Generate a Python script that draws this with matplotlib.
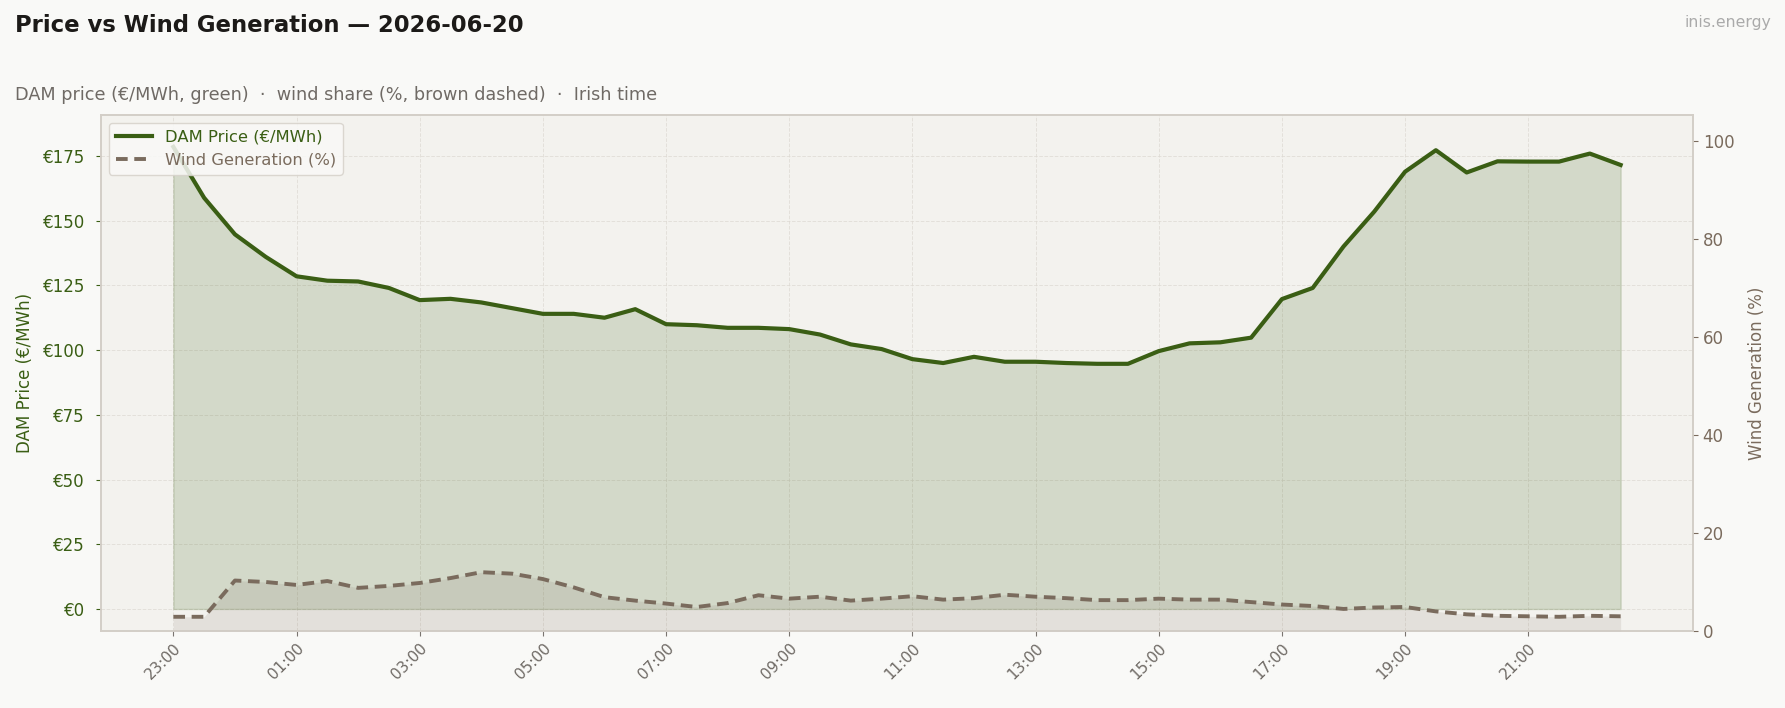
import matplotlib
matplotlib.use("Agg")
import matplotlib.pyplot as plt
import numpy as np

times = ["23:00", "23:30", "00:00", "00:30", "01:00", "01:30", "02:00", "02:30",
         "03:00", "03:30", "04:00", "04:30", "05:00", "05:30", "06:00", "06:30",
         "07:00", "07:30", "08:00", "08:30", "09:00", "09:30", "10:00", "10:30",
         "11:00", "11:30", "12:00", "12:30", "13:00", "13:30", "14:00", "14:30",
         "15:00", "15:30", "16:00", "16:30", "17:00", "17:30", "18:00", "18:30",
         "19:00", "19:30", "20:00", "20:30", "21:00", "21:30", "22:00", "22:30"]

price = [178.5, 158.8, 144.7, 136.0, 128.5, 126.8, 126.5, 124.0,
         119.3, 119.8, 118.4, 116.2, 114.0, 114.0, 112.5, 115.8,
         110.0, 109.6, 108.6, 108.6, 108.1, 106.0, 102.2, 100.4,
         96.5, 95.0, 97.4, 95.5, 95.5, 95.0, 94.7, 94.7,
         99.6, 102.6, 103.0, 104.8, 119.7, 124.0, 140.0, 153.5,
         168.9, 177.2, 168.6, 172.9, 172.8, 172.8, 175.9, 171.5]

wind = [2.9, 2.9, 10.3, 10.0, 9.4, 10.2, 8.8, 9.2,
        9.8, 10.8, 12.0, 11.7, 10.6, 8.9, 6.9, 6.2,
        5.6, 4.9, 5.7, 7.3, 6.6, 7.0, 6.2, 6.6,
        7.1, 6.4, 6.7, 7.4, 7.0, 6.7, 6.3, 6.3,
        6.6, 6.4, 6.4, 5.9, 5.4, 5.1, 4.5, 4.8,
        4.9, 4.0, 3.4, 3.1, 3.0, 2.9, 3.1, 3.0]

tick_labels = times[::4]

GREEN = "#3a5e14"
BROWN = "#7a6b5d"
FIG_BG = "#f9f9f7"
AX_BG = "#f3f2ee"
SPINE = "#d3cec7"

plt.rcParams['font.family'] = ['DejaVu Sans']

fig = plt.figure(figsize=(17.85, 7.08), dpi=100, facecolor=FIG_BG)
ax = fig.add_axes([101/1785, 1 - 631/708, (1693-101)/1785, (631-115)/708])
ax.set_facecolor(AX_BG)

x = np.arange(len(times))

ax.fill_between(x, price, 0, color=GREEN, alpha=0.17, linewidth=1.0,
                edgecolor=GREEN)
lp, = ax.plot(x, price, color=GREEN, linewidth=3.0, label="DAM Price (€/MWh)",
              zorder=3)

ax.set_xlim(-2.35, 49.35)
ax.set_ylim(-8.5, 190.8)
ax.set_yticks([0, 25, 50, 75, 100, 125, 150, 175])
ax.set_yticklabels(["€0", "€25", "€50", "€75", "€100", "€125", "€150", "€175"])
ax.set_xticks(x[::4])
ax.set_xticklabels(tick_labels, rotation=45, ha="right", rotation_mode="anchor")

ax.grid(True, linestyle="--", color="#dcd8d2", linewidth=0.7, alpha=0.7)
ax.set_axisbelow(True)

ax.tick_params(axis="y", colors=GREEN, labelsize=12, labelcolor=GREEN, pad=8)
ax.tick_params(axis="x", colors="#7a7570", labelsize=11, labelcolor="#6f6a65")
ax.set_ylabel("DAM Price (€/MWh)", color=GREEN, fontsize=12, labelpad=6)

ax2 = ax.twinx()
ax2.fill_between(x, wind, 0, color=BROWN, alpha=0.13, linewidth=0)
lw, = ax2.plot(x, wind, color=BROWN, linewidth=2.8, linestyle=(0, (3.0, 1.7)),
               label="Wind Generation (%)")
ax2.set_ylim(0, 105.3)
ax2.set_yticks([0, 20, 40, 60, 80, 100])
ax2.tick_params(axis="y", colors=BROWN, labelsize=12, labelcolor=BROWN)
ax2.set_ylabel("Wind Generation (%)", color=BROWN, fontsize=12, labelpad=10)

for a in (ax, ax2):
    for s in a.spines.values():
        s.set_color(SPINE)
        s.set_linewidth(1.2)

leg = ax2.legend(handles=[lp, lw], loc="upper left", fontsize=11.8,
                 facecolor="#f9f9f7", edgecolor="#d6d1ca", framealpha=0.85,
                 borderaxespad=0.5, handlelength=2.2)
leg.get_texts()[0].set_color(GREEN)
leg.get_texts()[1].set_color(BROWN)

fig.text(15/1785, 1 - 25/708, "Price vs Wind Generation — 2026-06-20",
         fontsize=16.4, fontweight="bold", color="#1c1a18", va="center", ha="left")
fig.text(15/1785, 1 - 95/708,
         "DAM price (€/MWh, green)  ·  wind share (%, brown dashed)  ·  Irish time",
         fontsize=12.7, color="#6f6a65", va="center", ha="left")
fig.text(1771/1785, 1 - 22/708, "inis.energy", fontsize=11.3, color="#aaaaaa",
         va="center", ha="right")

fig.savefig("out.png", dpi=100, facecolor=FIG_BG)
